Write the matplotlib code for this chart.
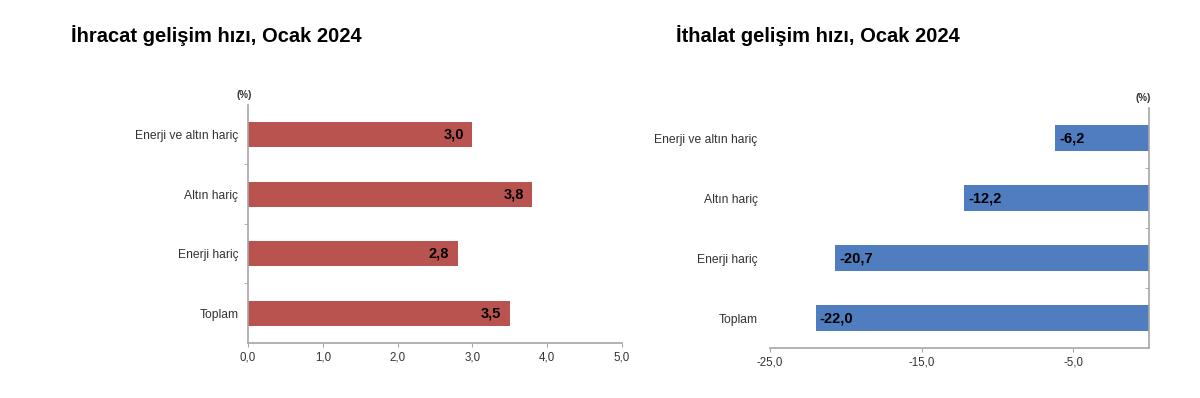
import matplotlib.pyplot as plt
from matplotlib.ticker import FuncFormatter

# -------------------------------
# Data
# -------------------------------
categories = ["Enerji ve altın hariç", "Altın hariç", "Enerji hariç", "Toplam"]
export_values = [3.0, 3.8, 2.8, 3.5]
import_values = [-6.2, -12.2, -20.7, -22.0]

export_title = "İhracat gelişim hızı, Ocak 2024"
import_title = "İthalat gelişim hızı, Ocak 2024"

red = "#B9534F"
blue = "#4F7DBF"
axis_grey = "#A6A6A6"
text_grey = "#333333"

plt.rcParams["font.family"] = ["Liberation Sans", "DejaVu Sans"]

fig = plt.figure(figsize=(12, 3.98), dpi=100)

comma = FuncFormatter(lambda v, p: f"{v:.1f}".replace(".", ","))
ypos = list(range(len(categories)))


def style_axis(ax, side):
    for s in ax.spines.values():
        s.set_visible(False)
    ax.spines["bottom"].set_visible(True)
    ax.spines[side].set_visible(True)
    ax.spines["bottom"].set_color(axis_grey)
    ax.spines[side].set_color(axis_grey)
    ax.spines["bottom"].set_linewidth(1.2)
    ax.spines[side].set_linewidth(1.2)
    ax.set_ylim(len(categories) - 0.5, -0.5)
    ax.set_yticks(ypos)
    ax.set_yticklabels(categories, fontsize=8.7, color=text_grey)
    ax.tick_params(axis="y", length=0)
    ax.set_yticks([0.5, 1.5, 2.5], minor=True)
    ax.xaxis.set_major_formatter(comma)
    ax.tick_params(axis="x", length=3, color=axis_grey, labelsize=8.3,
                   labelcolor=text_grey, pad=3)


# -------------------------------
# Left: exports
# -------------------------------
ax1 = fig.add_axes([0.2067, 0.1382, 0.3117, 0.598])
ax1.barh(ypos, export_values, height=0.42, color=red)
ax1.set_xlim(0, 5)
ax1.set_xticks([0, 1, 2, 3, 4, 5])
style_axis(ax1, "left")
ax1.tick_params(axis="y", which="major", pad=7)
ax1.tick_params(axis="y", which="minor", length=3, color=axis_grey,
                direction="out")
for y, v in zip(ypos, export_values):
    ax1.annotate(f"{v:.1f}".replace(".", ","), (v, y), xytext=(-6, 0),
                 textcoords="offset points", ha="right", va="center",
                 fontsize=10.5, fontweight="bold", color="black")
ax1.text(-0.01, 1.02, "(%)", transform=ax1.transAxes, fontsize=7,
         fontweight="bold", ha="center", va="bottom", color=text_grey)

# -------------------------------
# Right: imports
# -------------------------------
ax2 = fig.add_axes([0.6417, 0.1256, 0.3158, 0.603])
ax2.barh(ypos, import_values, height=0.42, color=blue)
ax2.set_xlim(-25, 0)
ax2.set_xticks([-25, -15, -5])
style_axis(ax2, "right")
ax2.tick_params(axis="y", which="major", pad=9)
ax2.tick_params(axis="y", which="minor", length=3, color=axis_grey,
                direction="in", left=False, right=True)
for y, v in zip(ypos, import_values):
    ax2.annotate(f"{v:.1f}".replace(".", ","), (v, y), xytext=(3, 0),
                 textcoords="offset points", ha="left", va="center",
                 fontsize=10.5, fontweight="bold", color="black")
ax2.text(0.985, 1.02, "(%)", transform=ax2.transAxes, fontsize=7,
         fontweight="bold", ha="center", va="bottom", color=text_grey)

# -------------------------------
# Titles
# -------------------------------
fig.text(71 / 1200, 1 - 36 / 398, export_title, fontsize=14.5,
         fontweight="bold", ha="left", va="center", color="black")
fig.text(676 / 1200, 1 - 36 / 398, import_title, fontsize=14.5,
         fontweight="bold", ha="left", va="center", color="black")

fig.savefig("out.png", dpi=100)
